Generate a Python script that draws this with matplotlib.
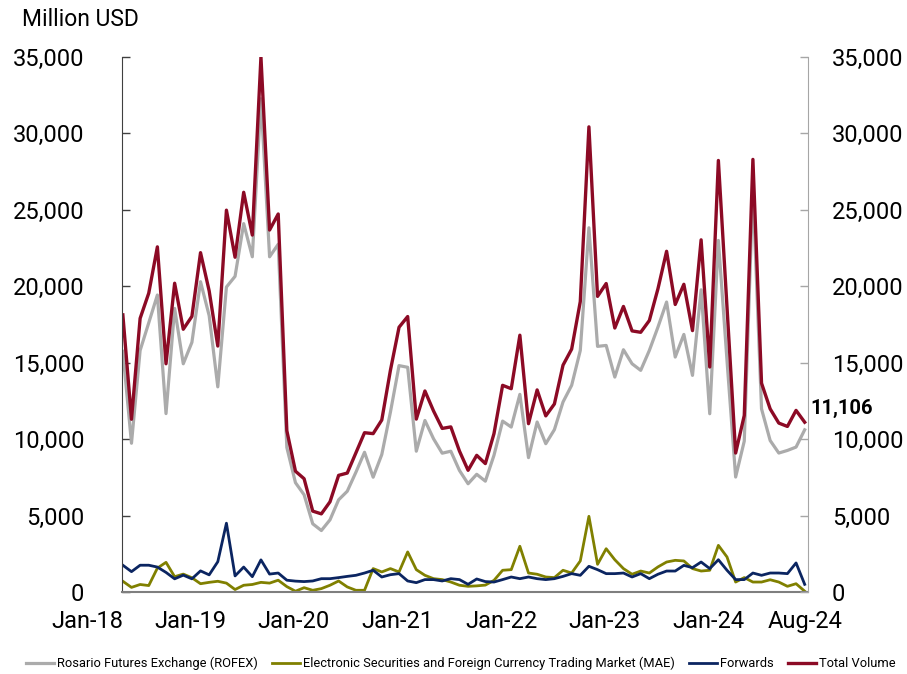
import matplotlib
matplotlib.use("Agg")
import matplotlib.pyplot as plt
from matplotlib.ticker import FuncFormatter
import numpy as np

plt.rcParams['font.family'] = ['Roboto', 'DejaVu Sans']

# monthly volumes, Jan-18 .. Aug-24, million USD
rofex = [15750, 9730, 15800, 17610, 19430, 11670, 18550, 14930, 16330, 20300, 18080, 13420,
         19950, 20650, 24100, 21930, 32270, 21930, 22750, 9450, 7150, 6360, 4460, 4020,
         4720, 6030, 6590, 7830, 9140, 7510, 8990, 11760, 14810, 14700, 9210, 11220,
         10020, 9080, 9210, 7950, 7080, 7700, 7250, 8940, 11180, 10790, 12930, 8790,
         11120, 9700, 10620, 12430, 13520, 15800, 23830, 16070, 16130, 14060, 15850, 14930,
         14500, 15800, 17330, 18970, 15370, 16850, 14170, 19770, 11660, 23000, 15140, 7520,
         9870, 26400, 11980, 9910, 9090, 9260, 9480, 10610]
mae = [700, 300, 490, 420, 1560, 1940, 1000, 1170, 930, 540, 630, 700,
       580, 160, 440, 490, 630, 580, 770, 350, 50, 280, 110, 220,
       440, 720, 330, 110, 110, 1530, 1310, 1530, 1310, 2620, 1460, 1090,
       870, 810, 650, 440, 370, 400, 450, 760, 1420, 1460, 2990, 1240,
       1160, 980, 940, 1420, 1240, 2030, 4950, 1810, 2830, 2110, 1530, 1160,
       1370, 1240, 1640, 1960, 2070, 2030, 1530, 1370, 1420, 3050, 2290, 650,
       940, 650, 650, 800, 650, 370, 540, 50]
forwards = [1750, 1330, 1750, 1750, 1630, 1280, 860, 1100, 860, 1380, 1120, 1980,
            4500, 1050, 1630, 1000, 2100, 1170, 1240, 770, 710, 680, 720, 870,
            870, 940, 1020, 1090, 1240, 1420, 980, 1130, 1200, 720, 610, 810,
            810, 720, 870, 810, 500, 850, 680, 650, 810, 980, 870, 980,
            870, 810, 870, 1020, 1200, 1090, 1680, 1460, 1200, 1200, 1240, 980,
            1200, 870, 1160, 1370, 1370, 1740, 1590, 1960, 1530, 2110, 1420, 810,
            810, 1240, 1090, 1240, 1240, 1200, 1900, 500]
total = [18130, 11300, 17900, 19550, 22580, 14930, 20200, 17190, 18030, 22200, 19700, 16090,
         24980, 21900, 26150, 23350, 35000, 23680, 24730, 10550, 7900, 7410, 5290, 5110,
         5900, 7630, 7780, 9100, 10420, 10360, 11250, 14500, 17320, 18020, 11310, 13150,
         11840, 10700, 10800, 9220, 7960, 8940, 8400, 10360, 13520, 13300, 16800, 11010,
         13220, 11520, 12300, 14840, 15890, 19000, 30430, 19340, 20180, 17270, 18680, 17080,
         16990, 17760, 19840, 22290, 18810, 20130, 17100, 23040, 14720, 28230, 18630, 9090,
         11550, 28300, 13660, 11980, 11050, 10830, 11880, 11106]

xtick_pos = [0, 12, 24, 36, 48, 60, 72, 79]
xtick_labels = ['Jan-18', 'Jan-19', 'Jan-20', 'Jan-21', 'Jan-22', 'Jan-23', 'Jan-24', 'Aug-24']
yticks = [0, 5000, 10000, 15000, 20000, 25000, 30000, 35000]

c_rofex = '#ababab'
c_mae = '#808000'
c_fwd = '#0b2561'
c_total = '#8c0a25'

fig = plt.figure(figsize=(9.07, 6.74), dpi=100)
ax = fig.add_axes([0.1345, 0.1217, 0.7565, 0.7937])
x = np.arange(len(total))

ax.plot(x, rofex, color=c_rofex, lw=2.3, label='Rosario Futures Exchange (ROFEX)')
ax.plot(x, mae, color=c_mae, lw=2.0, label='Electronic Securities and Foreign Currency Trading Market (MAE)')
ax.plot(x, forwards, color=c_fwd, lw=2.0, label='Forwards')
ax.plot(x, total, color=c_total, lw=2.4, label='Total Volume')

ax.set_xlim(-0.1, 79.4)
ax.set_ylim(0, 35000)
fmt = FuncFormatter(lambda v, p: f'{v:,.0f}')

ax.set_yticks(yticks)
ax.yaxis.set_major_formatter(fmt)
ax.tick_params(axis='y', direction='in', length=6, width=1, color='#404040',
               labelsize=17, pad=27)
ax.set_xticks(xtick_pos)
ax.set_xticklabels(xtick_labels)
ax.tick_params(axis='x', length=0, labelsize=17, pad=13)
for lab in ax.get_xticklabels()[:-1]:
    lab.set_ha('right')
ax.get_xticklabels()[-1].set_ha('center')

ax.spines['top'].set_visible(False)
ax.spines['right'].set_visible(False)
ax.spines['left'].set_color('#404040')
ax.spines['bottom'].set_color('#7f7f7f')
ax.spines['bottom'].set_linewidth(1.5)

ax2 = ax.twinx()
ax2.set_ylim(0, 35000)
ax2.set_yticks(yticks)
ax2.yaxis.set_major_formatter(fmt)
ax2.tick_params(axis='y', direction='in', length=6, width=1, color='#a6a6a6',
                labelsize=17, pad=17)
for s in ['top', 'left', 'bottom']:
    ax2.spines[s].set_visible(False)
ax2.spines['right'].set_color('#a6a6a6')

# value of the last total point
ax.annotate(f'{total[-1]:,}', xy=(x[-1], total[-1]), xytext=(4, 3),
            textcoords='offset points', ha='left', va='bottom',
            fontsize=14.5, fontweight='bold', annotation_clip=False)

fig.text(22 / 907, 1 - 19 / 674, 'Million USD', fontsize=16.5, va='center', ha='left')

fig.legend(loc='lower center', bbox_to_anchor=(0.508, -0.012), ncol=4, frameon=False,
           fontsize=9.3, handlelength=2.2, handletextpad=0.2, columnspacing=1.1)

fig.savefig('out.png', dpi=100)
